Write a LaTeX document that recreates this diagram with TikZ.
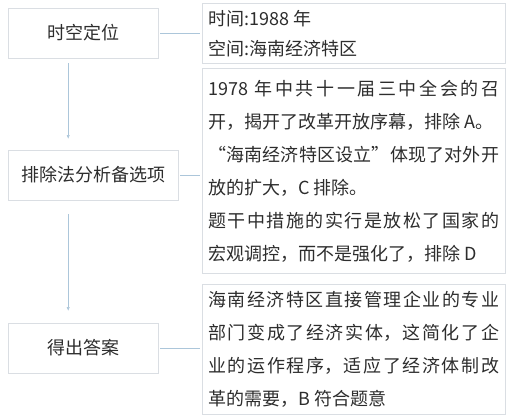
\documentclass[tikz,border=0pt]{standalone}
\usepackage{fontspec}
\newfontfamily\cjk{Noto Sans CJK SC}
\usepackage{tikz}
\usetikzlibrary{arrows.meta}
\usetikzlibrary{positioning}
\XeTeXlinebreaklocale "zh"
\XeTeXlinebreakskip=0pt plus 2pt
\setlength{\parindent}{0pt}
\definecolor{boxgray}{RGB}{218,222,227}
\definecolor{linkblue}{RGB}{172,198,218}
\definecolor{inkgray}{RGB}{45,45,45}
\tikzset{
	every path/.style = {thin},
	every node/.style = {text=inkgray, font=\cjk\fontsize{18}{33}\selectfont},
	stepbox/.style = {draw=boxgray, minimum height=50pt, minimum width=150pt, anchor=west},
	notebox/.style = {draw=boxgray, anchor=north west, text width=291pt, inner xsep=6pt, align=justify},
	link/.style = {draw=linkblue, shorten <=2pt, shorten >=2pt},
	flow/.style = {draw=linkblue, -{Latex[length=1.3mm,width=1.1mm]}}
}

\begin{document}
\begin{tikzpicture}[x=1pt,y=1pt]
	\useasboundingbox (0,0) rectangle (508,-418);
	\node[stepbox] (place) at (8,-33) {时空定位};
	\node[stepbox, minimum width=170pt] (exclude) at ([yshift=-142pt]place.west) {排除法分析备选项};
	\node[stepbox] (answer) at ([yshift=-315pt]place.west) {得出答案};
	\node[notebox, minimum height=60pt, font=\cjk\fontsize{18}{30}\selectfont] (when) at (202,-3)
		{时间:1988 年\par 空间:海南经济特区};
	\node[notebox, minimum height=205pt] (reason) [below=5pt of when.south west, anchor=north west]
		{1978 年中共十一届三中全会的召\linebreak 开，揭开了改革开放序幕，排除 A。\par
		“海南经济特区设立”体现了对外开\linebreak 放的扩大，C 排除。\par
		题干中措施的实行是放松了国家的\linebreak 宏观调控，而不是强化了，排除 D};
	\node[notebox, minimum height=130pt] (result) [below=10pt of reason.south west, anchor=north west]
		{海南经济特区直接管理企业的专业\linebreak 部门变成了经济实体，这简化了企\linebreak
		业的运作程序，适应了经济体制改\linebreak 革的需要，B 符合题意};
	\draw[link] (place.east) -- (place.east -| when.west);
	\draw[link] (exclude.east) -- (exclude.east -| reason.west);
	\draw[link] (answer.east) -- (answer.east -| result.west);
	\draw[flow, shorten <=5pt, shorten >=11pt] ([xshift=-15pt]place.south) -- ([xshift=-15pt]place.south |- exclude.north);
	\draw[flow, shorten <=14pt, shorten >=12pt] ([xshift=-15pt]place.south |- exclude.south) -- ([xshift=-15pt]place.south |- answer.north);
\end{tikzpicture}
\end{document}
